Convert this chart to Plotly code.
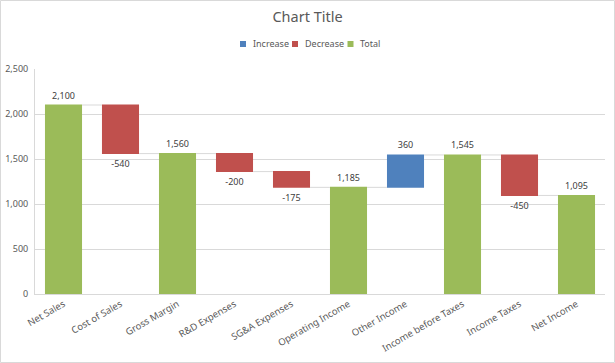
import plotly.graph_objects as go

categories = ["Net Sales", "Cost of Sales", "Gross Margin", "R&D Expenses", "SG&A Expenses",
              "Operating Income", "Other Income", "Income before Taxes", "Income Taxes", "Net Income"]
values = [2100, -540, 1560, -200, -175, 1185, 360, 1545, -450, 1095]
measures = ["absolute", "relative", "total", "relative", "relative",
            "total", "relative", "total", "relative", "total"]
labels = [f"{v:,}" for v in values]
y_ticks = [0, 500, 1000, 1500, 2000, 2500]
legend_names = ["Increase", "Decrease", "Total"]

GREEN = "#9BBB59"
RED = "#C0504D"
BLUE = "#4F81BD"
TXT = "#595959"
FONT = "Noto Sans"

fig = go.Figure()
fig.add_trace(go.Waterfall(
    x=categories, y=values, measure=measures,
    text=labels, textposition="outside",
    textfont=dict(family=FONT, size=9, color="#404040"),
    increasing=dict(marker=dict(color=BLUE)),
    decreasing=dict(marker=dict(color=RED)),
    totals=dict(marker=dict(color=GREEN)),
    connector=dict(line=dict(color="#d9d9d9", width=1), mode="between"),
    showlegend=False, cliponaxis=False, hoverinfo="skip",
))

W, H = 615, 363
L, R, T, B = 35, 10, 69, 69
pw, ph = W - L - R, H - T - B

def px_x(x):
    return (x - L) / pw

def px_y(y):
    return (H - B - y) / ph

shapes = [dict(type="rect", xref="paper", yref="paper",
               x0=px_x(0.5), x1=px_x(W - 0.5), y0=px_y(H - 0.5), y1=px_y(0.5),
               line=dict(color="#d9d9d9", width=1), fillcolor="rgba(0,0,0,0)", layer="below")]
annotations = []
leg_x = [243, 295, 350.5]
leg_y = 44
for name, col, x in zip(legend_names, [BLUE, RED, GREEN], leg_x):
    shapes.append(dict(type="rect", xref="paper", yref="paper",
                       x0=px_x(x - 3), x1=px_x(x + 3), y0=px_y(leg_y + 3), y1=px_y(leg_y - 3),
                       line=dict(width=0), fillcolor=col))
    annotations.append(dict(text=name, xref="paper", yref="paper", x=px_x(x + 7.5), y=px_y(leg_y),
                            xanchor="left", yanchor="middle", showarrow=False,
                            font=dict(family=FONT, size=9, color=TXT)))

fig.update_layout(
    width=W, height=H,
    margin=dict(l=L, r=R, t=T, b=B),
    paper_bgcolor="white", plot_bgcolor="white",
    font=dict(family=FONT, size=9, color=TXT),
    title=dict(text="Chart Title", x=0.5, xanchor="center", y=1 - 17 / H, yanchor="middle",
               font=dict(family=FONT, size=14.5, color=TXT)),
    showlegend=False,
    waterfallgap=0.35,
    xaxis=dict(tickangle=-30, showline=True, linecolor="#d9d9d9", linewidth=1,
               ticks="", automargin=False, tickfont=dict(family=FONT, size=9.5, color=TXT)),
    yaxis=dict(range=[0, 2500], tickvals=y_ticks, tickformat=",", showgrid=True,
               gridcolor="#d9d9d9", gridwidth=1, showline=True, linecolor="#d9d9d9",
               zeroline=False, ticks="", automargin=False, ticklabelstandoff=4,
               tickfont=dict(family=FONT, size=9, color=TXT)),
    shapes=shapes,
    annotations=annotations,
)
fig.write_html("out.html", config={"displayModeBar": False},
               post_script="document.body.style.margin='0';document.body.style.overflow='hidden';")
